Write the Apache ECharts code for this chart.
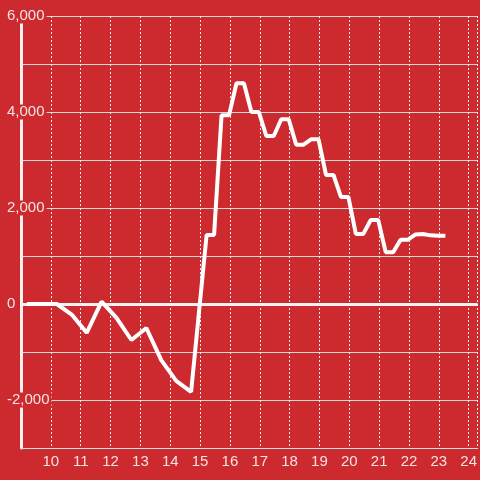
<!DOCTYPE html>
<html>
<head>
<meta charset="utf-8">
<script src="https://cdn.jsdelivr.net/npm/echarts@6/dist/echarts.min.js"></script>
<style>
html,body{margin:0;padding:0;background:#cc2a2f;}
#chart{width:480px;height:480px;}
</style>
</head>
<body>
<div id="chart"></div>
<script>
var hours = [9.2, 9.7, 10.2, 10.7, 11.2, 11.7, 12.2, 12.7, 13.2, 13.7, 14.2, 14.7,
  15.22, 15.47, 15.72, 15.97, 16.22, 16.47, 16.72, 16.97, 17.22, 17.47, 17.72, 17.97,
  18.22, 18.47, 18.72, 18.97, 19.22, 19.47, 19.72, 19.97, 20.22, 20.47, 20.72, 20.97,
  21.22, 21.47, 21.72, 21.97, 22.22, 22.47, 22.72, 22.97, 23.22];
var values = [0, 0, 0, -220, -600, 50, -290, -750, -500, -1170, -1600, -1830,
  1440, 1440, 3930, 3930, 4600, 4600, 4000, 4000, 3500, 3500, 3850, 3850,
  3320, 3320, 3430, 3430, 2690, 2690, 2230, 2230, 1460, 1460, 1750, 1750,
  1080, 1080, 1340, 1340, 1450, 1460, 1430, 1420, 1420];
var xTickLabels = ['10','11','12','13','14','15','16','17','18','19','20','21','22','23','24'];
var yTickLabels = ['-2,000','0','2,000','4,000','6,000'];

var bg = '#cc2a2f';
var chart = echarts.init(document.getElementById('chart'));
var seriesData = hours.map(function(h, i){ return [h, values[i]]; });

chart.setOption({
  backgroundColor: bg,
  animation: false,
  grid: {left: 21, right: 0, top: 16, bottom: 32, containLabel: false},
  xAxis: {
    type: 'value', min: 9, max: 24.3, interval: 1,
    axisLine: {show: true, onZero: false, lineStyle: {color: '#dddddd', width: 1}},
    axisTick: {show: false},
    axisLabel: {
      color: '#f5e3e3', fontSize: 15, fontFamily: 'Liberation Sans, Arial, sans-serif', margin: 6,
      showMinLabel: false, showMaxLabel: false,
      formatter: function(v){ var s = String(Math.round(v)); return xTickLabels.indexOf(s) >= 0 && Math.abs(v - Math.round(v)) < 1e-6 ? s : ''; }
    },
    splitLine: {show: true, lineStyle: {color: '#eeeeee', width: 1, type: [2, 2]}}
  },
  yAxis: {
    type: 'value', min: -3000, max: 6000, interval: 1000,
    axisLine: {show: true, lineStyle: {color: '#f2f2f2', width: 3}},
    axisTick: {show: false},
    axisLabel: {
      align: 'left', margin: 16,
      formatter: function(v){
        var s = v === 0 ? '0' : (v < 0 ? '-' : '') + Math.abs(v).toLocaleString('en-US');
        return yTickLabels.indexOf(s) >= 0 ? '{a|' + s + '}' : '';
      },
      rich: {a: {color: '#f5e3e3', fontSize: 15, fontFamily: 'Liberation Sans, Arial, sans-serif',
        backgroundColor: bg, padding: [0, 2, 0, 2], lineHeight: 16}}
    },
    splitLine: {show: true, lineStyle: {color: '#d8d8d8', width: 1}}
  },
  series: [{
    type: 'line',
    data: seriesData,
    showSymbol: false,
    symbol: 'none',
    lineStyle: {color: '#ffffff', width: 4},
    z: 3,
    markLine: {
      silent: true, symbol: 'none', label: {show: false},
      lineStyle: {color: '#f2f2f2', width: 3, type: 'solid'},
      data: [{yAxis: 0}],
      z: 2
    }
  }]
});
</script>
</body>
</html>
